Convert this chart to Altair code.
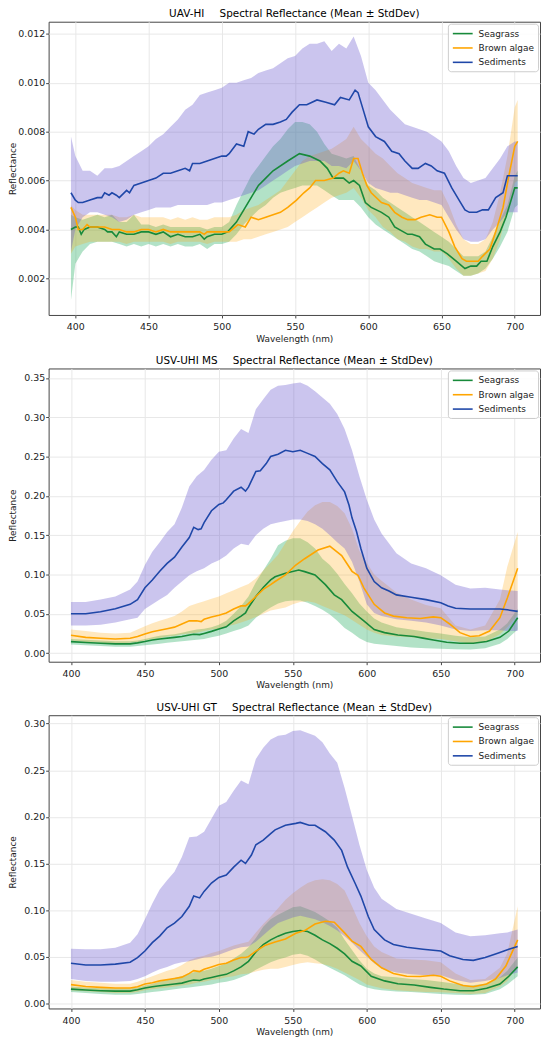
import altair as alt
import pandas as pd

CLASSES = ["Seagrass", "Brown algae", "Sediments"]
LINE_COLORS = ["#178a3a", "#ffa500", "#1f47a8"]
BAND_COLORS = ["#34b36c", "#ffa500", "#6a5acd"]
BAND_OPACITY = [0.38, 0.25, 0.35]

GAP = "\u00a0\u00a0\u00a0\u00a0\u2009"
TITLES = [
    "UAV-HI" + GAP + "Spectral Reflectance (Mean \u00b1 StdDev)",
    "USV-UHI MS" + GAP + "Spectral Reflectance (Mean \u00b1 StdDev)",
    "USV-UHI GT" + GAP + "Spectral Reflectance (Mean \u00b1 StdDev)",
]
X_TICKS = [400, 450, 500, 550, 600, 650, 700]
P1_Y_TICKS = [0.002, 0.004, 0.006, 0.008, 0.010, 0.012]
P2_Y_TICKS = [0.0, 0.05, 0.10, 0.15, 0.20, 0.25, 0.30, 0.35]
P3_Y_TICKS = [0.0, 0.05, 0.10, 0.15, 0.20, 0.25, 0.30]

# ---------------- Panel 1 (UAV-HI) ----------------
P1_BAND_WL = [397, 400, 405, 410, 415, 420, 425, 430, 435, 440,
              445, 450, 455, 460, 465, 470, 475, 480, 485, 490,
              495, 500, 505, 510, 515, 520, 525, 530, 535, 540,
              545, 550, 555, 560, 565, 570, 575, 580, 585, 590,
              595, 600, 605, 610, 615, 620, 625, 630, 635, 640,
              645, 650, 655, 660, 665, 670, 675, 680, 685, 690,
              695, 700, 702]
P1_SED_UP = [0.0078, 0.0070, 0.0064, 0.0064, 0.0062, 0.0065, 0.0065, 0.0066, 0.0068, 0.0070,
             0.0072, 0.0074, 0.0077, 0.0079, 0.0082, 0.0085, 0.0089, 0.0091, 0.0095, 0.0096,
             0.0097, 0.0098, 0.0100, 0.0100, 0.0101, 0.0102, 0.0104, 0.0105, 0.0106, 0.0108,
             0.0110, 0.0111, 0.0114, 0.0116, 0.0116, 0.0117, 0.0113, 0.0116, 0.0114, 0.0119,
             0.0111, 0.0100, 0.0097, 0.0093, 0.0089, 0.0086, 0.0083, 0.0082, 0.0081, 0.0080,
             0.0078, 0.0076, 0.0072, 0.0066, 0.0061, 0.0059, 0.0060, 0.0061, 0.0065, 0.0069,
             0.0074, 0.0076, 0.0076]
P1_SED_LO = [0.0031, 0.0040, 0.0045, 0.0047, 0.0047, 0.0046, 0.0045, 0.0043, 0.0044, 0.0046,
             0.0047, 0.0048, 0.0049, 0.0049, 0.0049, 0.0050, 0.0050, 0.0050, 0.0050, 0.0050,
             0.0051, 0.0051, 0.0052, 0.0053, 0.0054, 0.0055, 0.0056, 0.0058, 0.0060, 0.0062,
             0.0064, 0.0066, 0.0067, 0.0068, 0.0068, 0.0068, 0.0066, 0.0066, 0.0065, 0.0068,
             0.0064, 0.0059, 0.0057, 0.0056, 0.0055, 0.0055, 0.0054, 0.0053, 0.0052, 0.0052,
             0.0051, 0.0050, 0.0045, 0.0040, 0.0036, 0.0035, 0.0035, 0.0036, 0.0040, 0.0043,
             0.0047, 0.0047, 0.0047]
P1_SEA_UP = [0.0046, 0.0045, 0.0044, 0.0045, 0.0046, 0.0045, 0.0046, 0.0043, 0.0043, 0.0046,
             0.0042, 0.0042, 0.0041, 0.0042, 0.0041, 0.0041, 0.0041, 0.0041, 0.0041, 0.0040,
             0.0041, 0.0041, 0.0043, 0.0050, 0.0056, 0.0062, 0.0066, 0.0070, 0.0074, 0.0077,
             0.0081, 0.0084, 0.0084, 0.0083, 0.0080, 0.0075, 0.0071, 0.0070, 0.0069, 0.0070,
             0.0064, 0.0058, 0.0056, 0.0053, 0.0051, 0.0049, 0.0047, 0.0045, 0.0043, 0.0041,
             0.0039, 0.0037, 0.0035, 0.0032, 0.0029, 0.0029, 0.0029, 0.0031, 0.0037, 0.0044,
             0.0050, 0.0062, 0.0064]
P1_SEA_LO = [0.0011, 0.0026, 0.0031, 0.0034, 0.0035, 0.0035, 0.0035, 0.0034, 0.0033, 0.0034,
             0.0033, 0.0034, 0.0033, 0.0034, 0.0033, 0.0034, 0.0033, 0.0033, 0.0034, 0.0032,
             0.0034, 0.0034, 0.0035, 0.0038, 0.0042, 0.0045, 0.0048, 0.0050, 0.0053, 0.0055,
             0.0056, 0.0057, 0.0058, 0.0058, 0.0058, 0.0056, 0.0054, 0.0052, 0.0052, 0.0052,
             0.0049, 0.0045, 0.0042, 0.0040, 0.0038, 0.0036, 0.0034, 0.0032, 0.0031, 0.0029,
             0.0027, 0.0026, 0.0025, 0.0023, 0.0021, 0.0021, 0.0022, 0.0024, 0.0028, 0.0033,
             0.0039, 0.0049, 0.0050]
P1_BRN_UP = [0.0050, 0.0048, 0.0046, 0.0046, 0.0046, 0.0046, 0.0046, 0.0045, 0.0045, 0.0046,
             0.0045, 0.0045, 0.0045, 0.0045, 0.0044, 0.0045, 0.0044, 0.0045, 0.0044, 0.0044,
             0.0045, 0.0045, 0.0045, 0.0046, 0.0048, 0.0049, 0.0050, 0.0052, 0.0054, 0.0056,
             0.0060, 0.0064, 0.0068, 0.0070, 0.0071, 0.0072, 0.0073, 0.0075, 0.0077, 0.0082,
             0.0077, 0.0074, 0.0071, 0.0069, 0.0066, 0.0063, 0.0061, 0.0059, 0.0058, 0.0057,
             0.0056, 0.0056, 0.0050, 0.0042, 0.0036, 0.0034, 0.0034, 0.0036, 0.0043, 0.0055,
             0.0070, 0.0090, 0.0093]
P1_BRN_LO = [0.0030, 0.0033, 0.0034, 0.0035, 0.0035, 0.0035, 0.0035, 0.0035, 0.0034, 0.0035,
             0.0035, 0.0035, 0.0035, 0.0035, 0.0034, 0.0035, 0.0035, 0.0035, 0.0035, 0.0034,
             0.0035, 0.0035, 0.0035, 0.0035, 0.0036, 0.0036, 0.0037, 0.0038, 0.0039, 0.0040,
             0.0041, 0.0043, 0.0045, 0.0047, 0.0049, 0.0051, 0.0053, 0.0054, 0.0055, 0.0057,
             0.0053, 0.0048, 0.0045, 0.0041, 0.0039, 0.0036, 0.0035, 0.0033, 0.0032, 0.0032,
             0.0031, 0.0031, 0.0028, 0.0024, 0.0021, 0.0021, 0.0022, 0.0023, 0.0028, 0.0036,
             0.0048, 0.0059, 0.0060]

P1_SEA_WL = [397, 400, 402, 404, 406, 410, 415, 420, 422, 425,
             428, 430, 435, 440, 445, 450, 455, 460, 465, 470,
             475, 480, 485, 488, 490, 495, 500, 504, 510, 515,
             520, 525, 530, 535, 545, 553, 560, 567, 572, 576,
             583, 587, 590, 594, 598, 602, 609, 614, 618, 624,
             627, 630, 635, 639, 645, 649, 654, 660, 666, 670,
             674, 677, 681, 685, 690, 694, 700, 702]
P1_SEA_MEAN = [0.0040, 0.0041, 0.0041, 0.0038, 0.0040, 0.0041, 0.0041, 0.0040, 0.0039, 0.0039,
               0.0037, 0.0039, 0.0038, 0.0038, 0.0039, 0.0039, 0.0038, 0.0039, 0.0037, 0.0038,
               0.0037, 0.0037, 0.0038, 0.0036, 0.0037, 0.0038, 0.0038, 0.0039, 0.0043, 0.0048,
               0.0053, 0.0058, 0.0061, 0.0064, 0.0068, 0.0071, 0.0070, 0.0068, 0.0065, 0.0061,
               0.0061, 0.0059, 0.0060, 0.0058, 0.0051, 0.0049, 0.0047, 0.0045, 0.0041, 0.0039,
               0.0038, 0.0038, 0.0037, 0.0034, 0.0032, 0.0032, 0.0030, 0.0027, 0.0024, 0.0025,
               0.0025, 0.0027, 0.0027, 0.0033, 0.0039, 0.0045, 0.0057, 0.0057]
P1_BRN_WL = [397, 400, 402, 405, 408, 410, 415, 420, 425, 430,
             435, 440, 445, 450, 455, 460, 465, 470, 475, 480,
             485, 488, 490, 495, 500, 505, 511, 516, 520, 525,
             530, 535, 540, 545, 551, 556, 560, 564, 570, 576,
             580, 583, 587, 590, 593, 596, 599, 602, 609, 614,
             618, 623, 627, 632, 636, 642, 647, 650, 655, 659,
             664, 667, 672, 675, 678, 683, 687, 692, 696, 700,
             702]
P1_BRN_MEAN = [0.0049, 0.0045, 0.0040, 0.0040, 0.0042, 0.0041, 0.0041, 0.0041, 0.0040, 0.0040,
               0.0039, 0.0039, 0.0040, 0.0040, 0.0039, 0.0040, 0.0039, 0.0039, 0.0039, 0.0039,
               0.0039, 0.0038, 0.0039, 0.0039, 0.0039, 0.0039, 0.0042, 0.0041, 0.0045, 0.0044,
               0.0045, 0.0046, 0.0047, 0.0049, 0.0052, 0.0055, 0.0057, 0.0060, 0.0060, 0.0061,
               0.0063, 0.0064, 0.0063, 0.0069, 0.0069, 0.0063, 0.0058, 0.0055, 0.0051, 0.0050,
               0.0047, 0.0045, 0.0044, 0.0044, 0.0045, 0.0046, 0.0045, 0.0045, 0.0039, 0.0033,
               0.0028, 0.0027, 0.0027, 0.0027, 0.0029, 0.0032, 0.0039, 0.0049, 0.0062, 0.0074,
               0.0076]
P1_SED_WL = [397, 400, 402, 405, 410, 415, 418, 420, 423, 425,
             428, 430, 435, 437, 440, 445, 450, 455, 460, 465,
             470, 475, 478, 480, 485, 490, 495, 500, 503, 505,
             510, 515, 518, 522, 525, 530, 535, 540, 544, 548,
             553, 558, 565, 571, 577, 581, 587, 591, 593, 597,
             600, 605, 611, 616, 621, 625, 630, 634, 639, 643,
             647, 652, 657, 663, 666, 669, 674, 678, 682, 687,
             692, 695, 700, 702]
P1_SED_MEAN = [0.0055, 0.0052, 0.0051, 0.0051, 0.0052, 0.0053, 0.0053, 0.0055, 0.0054, 0.0055,
               0.0054, 0.0053, 0.0056, 0.0055, 0.0058, 0.0059, 0.0060, 0.0061, 0.0063, 0.0063,
               0.0064, 0.0065, 0.0064, 0.0067, 0.0067, 0.0068, 0.0069, 0.0070, 0.0070, 0.0071,
               0.0075, 0.0074, 0.0080, 0.0079, 0.0081, 0.0083, 0.0083, 0.0084, 0.0085, 0.0088,
               0.0091, 0.0091, 0.0093, 0.0092, 0.0091, 0.0094, 0.0093, 0.0097, 0.0096, 0.0088,
               0.0082, 0.0078, 0.0076, 0.0072, 0.0071, 0.0068, 0.0065, 0.0065, 0.0067, 0.0066,
               0.0064, 0.0063, 0.0057, 0.0051, 0.0048, 0.0047, 0.0047, 0.0048, 0.0048, 0.0053,
               0.0055, 0.0062, 0.0062, 0.0062]

# ---------------- Panels 2 and 3 band wavelengths ----------------
P23_BAND_WL = [400, 410, 420, 430, 440, 445, 450, 455, 460, 465,
               470, 475, 480, 485, 490, 495, 500, 505, 510, 515,
               520, 525, 530, 535, 540, 545, 550, 555, 560, 565,
               570, 575, 580, 585, 590, 595, 600, 605, 610, 620,
               630, 640, 650, 660, 670, 680, 690, 695, 702]

# ---------------- Panel 2 (USV-UHI MS) ----------------
P2_SED_UP = [0.065, 0.065, 0.068, 0.072, 0.081, 0.091, 0.112, 0.129, 0.141, 0.154,
             0.164, 0.185, 0.212, 0.225, 0.233, 0.246, 0.256, 0.258, 0.273, 0.285,
             0.280, 0.310, 0.323, 0.335, 0.340, 0.341, 0.343, 0.344, 0.340, 0.333,
             0.325, 0.317, 0.304, 0.285, 0.258, 0.225, 0.195, 0.170, 0.152, 0.127,
             0.114, 0.108, 0.099, 0.087, 0.082, 0.083, 0.081, 0.080, 0.079]
P2_SED_LO = [0.035, 0.035, 0.036, 0.039, 0.043, 0.045, 0.056, 0.062, 0.068, 0.074,
             0.083, 0.091, 0.099, 0.104, 0.108, 0.114, 0.118, 0.124, 0.133, 0.139,
             0.137, 0.150, 0.158, 0.164, 0.166, 0.168, 0.170, 0.170, 0.168, 0.164,
             0.158, 0.150, 0.141, 0.133, 0.116, 0.091, 0.062, 0.051, 0.047, 0.043,
             0.041, 0.039, 0.035, 0.030, 0.028, 0.029, 0.029, 0.028, 0.028]
P2_BRN_UP = [0.030, 0.028, 0.026, 0.025, 0.026, 0.030, 0.034, 0.038, 0.041, 0.044,
             0.047, 0.053, 0.060, 0.063, 0.066, 0.069, 0.072, 0.076, 0.080, 0.084,
             0.088, 0.095, 0.105, 0.115, 0.125, 0.140, 0.155, 0.168, 0.180, 0.188,
             0.192, 0.192, 0.187, 0.178, 0.158, 0.130, 0.115, 0.100, 0.092, 0.077,
             0.068, 0.061, 0.057, 0.035, 0.030, 0.035, 0.068, 0.110, 0.154]
P2_BRN_LO = [0.016, 0.014, 0.013, 0.012, 0.013, 0.014, 0.016, 0.018, 0.019, 0.021,
             0.022, 0.024, 0.025, 0.026, 0.028, 0.030, 0.031, 0.034, 0.036, 0.039,
             0.042, 0.046, 0.050, 0.054, 0.056, 0.058, 0.062, 0.065, 0.066, 0.064,
             0.060, 0.056, 0.052, 0.048, 0.042, 0.036, 0.030, 0.026, 0.023, 0.021,
             0.020, 0.019, 0.018, 0.015, 0.012, 0.014, 0.024, 0.033, 0.049]
P2_SEA_UP = [0.018, 0.017, 0.016, 0.015, 0.015, 0.016, 0.018, 0.020, 0.022, 0.023,
             0.024, 0.026, 0.028, 0.030, 0.031, 0.033, 0.036, 0.041, 0.050, 0.060,
             0.072, 0.090, 0.105, 0.120, 0.137, 0.143, 0.146, 0.146, 0.141, 0.133,
             0.120, 0.112, 0.101, 0.088, 0.076, 0.063, 0.053, 0.044, 0.039, 0.033,
             0.030, 0.027, 0.025, 0.022, 0.020, 0.021, 0.030, 0.038, 0.056]
P2_SEA_LO = [0.011, 0.010, 0.009, 0.008, 0.008, 0.009, 0.010, 0.011, 0.012, 0.013,
             0.014, 0.015, 0.016, 0.017, 0.018, 0.020, 0.022, 0.025, 0.028, 0.031,
             0.035, 0.045, 0.052, 0.058, 0.063, 0.066, 0.067, 0.067, 0.064, 0.060,
             0.055, 0.049, 0.041, 0.032, 0.026, 0.019, 0.014, 0.012, 0.011, 0.009,
             0.007, 0.006, 0.0055, 0.005, 0.0046, 0.006, 0.012, 0.018, 0.030]

P2_SEA_WL = [400, 410, 420, 430, 440, 445, 450, 455, 460, 470,
             475, 480, 483, 487, 490, 495, 500, 505, 510, 515,
             518, 520, 525, 530, 535, 538, 545, 554, 558, 565,
             572, 578, 583, 590, 594, 598, 605, 612, 621, 632,
             638, 645, 654, 663, 672, 681, 690, 696, 702]
P2_SEA_MEAN = [0.0146, 0.0134, 0.0125, 0.0117, 0.0117, 0.013, 0.0146, 0.0167, 0.018, 0.020,
               0.021, 0.023, 0.024, 0.0235, 0.025, 0.0276, 0.0305, 0.0334, 0.041, 0.047,
               0.051, 0.058, 0.072, 0.0835, 0.093, 0.097, 0.1015, 0.1057, 0.1036, 0.0994,
               0.087, 0.074, 0.068, 0.053, 0.047, 0.041, 0.030, 0.026, 0.023, 0.021,
               0.019, 0.0167, 0.0138, 0.0125, 0.0125, 0.0146, 0.020, 0.028, 0.045]
P2_BRN_WL = [400, 410, 420, 430, 440, 445, 450, 455, 460, 465,
             470, 475, 480, 485, 488, 490, 495, 500, 505, 510,
             515, 518, 520, 525, 530, 535, 538, 545, 552, 558,
             567, 575, 583, 590, 594, 598, 605, 612, 618, 627,
             636, 645, 650, 656, 663, 670, 676, 683, 690, 695,
             702]
P2_BRN_MEAN = [0.0226, 0.020, 0.0188, 0.018, 0.0188, 0.021, 0.0242, 0.027, 0.029, 0.031,
               0.033, 0.037, 0.041, 0.041, 0.040, 0.043, 0.046, 0.048, 0.051, 0.056,
               0.060, 0.060, 0.063, 0.072, 0.081, 0.087, 0.091, 0.0994, 0.112, 0.120,
               0.131, 0.136, 0.124, 0.104, 0.099, 0.083, 0.062, 0.051, 0.047, 0.045,
               0.044, 0.046, 0.045, 0.037, 0.026, 0.021, 0.022, 0.028, 0.045, 0.070,
               0.108]
P2_SED_WL = [400, 410, 420, 430, 440, 445, 450, 455, 460, 465,
             470, 475, 480, 483, 486, 488, 490, 495, 500, 503,
             505, 510, 515, 518, 520, 525, 528, 532, 535, 540,
             545, 550, 555, 560, 565, 570, 575, 580, 585, 588,
             590, 593, 596, 600, 605, 610, 615, 620, 630, 640,
             650, 655, 660, 670, 680, 690, 695, 702]
P2_SED_MEAN = [0.050, 0.050, 0.0526, 0.0564, 0.062, 0.068, 0.083, 0.093, 0.104, 0.114,
               0.122, 0.135, 0.147, 0.160, 0.157, 0.158, 0.166, 0.181, 0.189, 0.191,
               0.195, 0.206, 0.211, 0.206, 0.211, 0.231, 0.232, 0.241, 0.250, 0.253,
               0.258, 0.256, 0.258, 0.254, 0.250, 0.241, 0.233, 0.218, 0.205, 0.188,
               0.172, 0.155, 0.133, 0.108, 0.091, 0.083, 0.079, 0.074, 0.071, 0.068,
               0.064, 0.060, 0.057, 0.056, 0.056, 0.056, 0.055, 0.053]

# ---------------- Panel 3 (USV-UHI GT) ----------------
P3_SED_UP = [0.0585, 0.058, 0.058, 0.0596, 0.065, 0.074, 0.090, 0.107, 0.122, 0.132,
             0.141, 0.157, 0.178, 0.179, 0.184, 0.198, 0.212, 0.216, 0.228, 0.239,
             0.235, 0.262, 0.274, 0.283, 0.287, 0.288, 0.292, 0.293, 0.290, 0.287,
             0.280, 0.268, 0.258, 0.231, 0.201, 0.170, 0.143, 0.124, 0.112, 0.101,
             0.096, 0.091, 0.086, 0.076, 0.072, 0.073, 0.075, 0.076, 0.079]
P3_SED_LO = [0.026, 0.024, 0.023, 0.023, 0.024, 0.026, 0.029, 0.033, 0.0365, 0.039,
             0.042, 0.044, 0.045, 0.047, 0.049, 0.050, 0.052, 0.055, 0.058, 0.060,
             0.061, 0.066, 0.073, 0.080, 0.086, 0.089, 0.092, 0.094, 0.092, 0.090,
             0.087, 0.083, 0.078, 0.072, 0.065, 0.057, 0.050, 0.043, 0.037, 0.033,
             0.031, 0.030, 0.030, 0.025, 0.022, 0.024, 0.027, 0.030, 0.033]
P3_BRN_UP = [0.025, 0.023, 0.022, 0.021, 0.021, 0.023, 0.026, 0.029, 0.032, 0.035,
             0.037, 0.041, 0.046, 0.049, 0.051, 0.054, 0.056, 0.059, 0.062, 0.064,
             0.066, 0.076, 0.085, 0.093, 0.102, 0.111, 0.118, 0.124, 0.129, 0.132,
             0.133, 0.132, 0.128, 0.121, 0.104, 0.086, 0.072, 0.061, 0.055, 0.048,
             0.047, 0.046, 0.044, 0.032, 0.025, 0.026, 0.038, 0.054, 0.104]
P3_BRN_LO = [0.014, 0.013, 0.012, 0.011, 0.011, 0.012, 0.014, 0.015, 0.016, 0.017,
             0.018, 0.019, 0.020, 0.022, 0.023, 0.025, 0.026, 0.028, 0.029, 0.031,
             0.032, 0.034, 0.036, 0.037, 0.037, 0.039, 0.041, 0.043, 0.044, 0.043,
             0.042, 0.040, 0.037, 0.033, 0.029, 0.025, 0.020, 0.018, 0.016, 0.014,
             0.013, 0.012, 0.0117, 0.011, 0.010, 0.011, 0.018, 0.024, 0.040]
P3_SEA_UP = [0.018, 0.017, 0.016, 0.016, 0.016, 0.017, 0.019, 0.021, 0.023, 0.025,
             0.027, 0.029, 0.032, 0.034, 0.035, 0.037, 0.040, 0.043, 0.048, 0.053,
             0.060, 0.070, 0.082, 0.090, 0.095, 0.099, 0.103, 0.104, 0.101, 0.098,
             0.093, 0.088, 0.081, 0.068, 0.057, 0.046, 0.037, 0.032, 0.029, 0.028,
             0.026, 0.025, 0.023, 0.021, 0.019, 0.021, 0.028, 0.035, 0.049]
P3_SEA_LO = [0.012, 0.011, 0.010, 0.009, 0.009, 0.010, 0.011, 0.012, 0.013, 0.014,
             0.015, 0.016, 0.017, 0.018, 0.019, 0.020, 0.022, 0.023, 0.025, 0.028,
             0.031, 0.036, 0.040, 0.044, 0.047, 0.049, 0.052, 0.053, 0.051, 0.047,
             0.042, 0.038, 0.034, 0.030, 0.025, 0.020, 0.017, 0.015, 0.014, 0.0125,
             0.012, 0.011, 0.010, 0.009, 0.0089, 0.010, 0.015, 0.020, 0.029]

P3_SEA_WL = [400, 410, 420, 430, 440, 445, 450, 455, 460, 470,
             475, 480, 483, 487, 490, 495, 500, 505, 510, 515,
             520, 525, 530, 535, 540, 545, 550, 555, 560, 565,
             570, 575, 580, 585, 590, 596, 603, 612, 621, 632,
             643, 652, 663, 672, 681, 690, 696, 702]
P3_SEA_MEAN = [0.0152, 0.0142, 0.0135, 0.013, 0.013, 0.0145, 0.0163, 0.0177, 0.0188, 0.0206,
               0.0216, 0.0238, 0.025, 0.0245, 0.026, 0.0277, 0.0294, 0.031, 0.0347, 0.039,
               0.045, 0.055, 0.063, 0.068, 0.072, 0.075, 0.077, 0.078, 0.077, 0.073,
               0.068, 0.064, 0.059, 0.053, 0.045, 0.040, 0.029, 0.024, 0.021, 0.0195,
               0.017, 0.0152, 0.0135, 0.0135, 0.016, 0.0206, 0.029, 0.039]
P3_BRN_WL = [400, 410, 420, 430, 440, 445, 450, 455, 460, 470,
             475, 480, 483, 487, 490, 495, 500, 505, 510, 515,
             518, 520, 525, 531, 538, 545, 552, 558, 565, 572,
             578, 585, 590, 596, 603, 610, 618, 627, 636, 645,
             650, 656, 665, 672, 681, 687, 694, 702]
P3_BRN_MEAN = [0.020, 0.018, 0.017, 0.0163, 0.0163, 0.0177, 0.0206, 0.022, 0.024, 0.0266,
               0.028, 0.032, 0.035, 0.034, 0.0365, 0.039, 0.0415, 0.043, 0.0465, 0.049,
               0.049, 0.050, 0.056, 0.062, 0.0656, 0.069, 0.075, 0.078, 0.085, 0.088,
               0.087, 0.0755, 0.0667, 0.061, 0.047, 0.038, 0.032, 0.029, 0.0287, 0.030,
               0.029, 0.024, 0.019, 0.0177, 0.0206, 0.026, 0.040, 0.068]
P3_SED_WL = [400, 410, 420, 430, 440, 445, 450, 455, 460, 465,
             470, 475, 480, 483, 487, 490, 495, 500, 505, 510,
             515, 518, 522, 525, 530, 535, 538, 545, 552, 555,
             561, 565, 572, 578, 583, 587, 592, 596, 601, 605,
             612, 618, 627, 638, 650, 656, 665, 672, 680, 689,
             696, 702]
P3_SED_MEAN = [0.043, 0.041, 0.041, 0.042, 0.044, 0.049, 0.056, 0.065, 0.072, 0.081,
               0.086, 0.093, 0.104, 0.115, 0.113, 0.120, 0.129, 0.135, 0.1376, 0.146,
               0.1535, 0.150, 0.159, 0.170, 0.175, 0.182, 0.186, 0.191, 0.193, 0.194,
               0.191, 0.191, 0.184, 0.175, 0.164, 0.146, 0.129, 0.115, 0.093, 0.079,
               0.068, 0.063, 0.060, 0.058, 0.056, 0.051, 0.047, 0.046, 0.049, 0.054,
               0.058, 0.061]

FONT = "DejaVu Sans"
PLOT_W = 496
PLOT_H = 296


def make_panel(title, band_wl, bands, means, xdom, ydom, yticks, yfmt):
    xs = alt.Scale(domain=xdom, nice=False, zero=False)
    ys = alt.Scale(domain=ydom, nice=False, zero=False)
    xax = alt.Axis(values=X_TICKS, format="d", title="Wavelength (nm)",
                   labelPadding=4, titlePadding=3)
    yax = alt.Axis(values=yticks, format=yfmt, title="Reflectance",
                   labelPadding=1, titleX=-31)
    layers = []
    for i, (up, lo) in enumerate(bands):
        df = pd.DataFrame({"wl": band_wl, "lo": lo, "up": up})
        layers.append(
            alt.Chart(df).mark_area(color=BAND_COLORS[i], opacity=BAND_OPACITY[i]).encode(
                x=alt.X("wl:Q", scale=xs, axis=xax),
                y=alt.Y("lo:Q", scale=ys, axis=yax),
                y2="up:Q",
            )
        )
    legend = alt.Legend(
        title=None, orient="top-right", offset=2, symbolType="M-1,0H3",
        symbolSize=100, symbolStrokeWidth=1.6,
        labelFontSize=9, labelFont=FONT, labelOffset=15, padding=4, rowPadding=3.5,
        strokeColor="#cccccc", fillColor="rgba(255,255,255,0.85)", cornerRadius=3,
        labelColor="#222222",
    )
    for i, (wl, val) in enumerate(means):
        df = pd.DataFrame({"wl": wl, "val": val, "cls": CLASSES[i]})
        layers.append(
            alt.Chart(df).mark_line(strokeWidth=1.6).encode(
                x=alt.X("wl:Q", scale=xs, axis=xax),
                y=alt.Y("val:Q", scale=ys, axis=yax),
                color=alt.Color("cls:N", scale=alt.Scale(domain=CLASSES, range=LINE_COLORS),
                                legend=legend),
            )
        )
    return alt.layer(*layers).properties(
        width=PLOT_W, height=PLOT_H,
        title=alt.TitleParams(text=title, font=FONT, fontSize=10.5, fontWeight="normal",
                              color="black", offset=2, anchor="middle"),
    )


p1 = make_panel(
    TITLES[0], P1_BAND_WL,
    [(P1_SEA_UP, P1_SEA_LO), (P1_BRN_UP, P1_BRN_LO), (P1_SED_UP, P1_SED_LO)],
    [(P1_SEA_WL, P1_SEA_MEAN), (P1_BRN_WL, P1_BRN_MEAN), (P1_SED_WL, P1_SED_MEAN)],
    [381.75, 717.25], [0.0005, 0.0125], P1_Y_TICKS, ".3f",
)
p2 = make_panel(
    TITLES[1], P23_BAND_WL,
    [(P2_SEA_UP, P2_SEA_LO), (P2_BRN_UP, P2_BRN_LO), (P2_SED_UP, P2_SED_LO)],
    [(P2_SEA_WL, P2_SEA_MEAN), (P2_BRN_WL, P2_BRN_MEAN), (P2_SED_WL, P2_SED_MEAN)],
    [384.9, 717.1], [-0.011, 0.362], P2_Y_TICKS, ".2f",
)
p3 = make_panel(
    TITLES[2], P23_BAND_WL,
    [(P3_SEA_UP, P3_SEA_LO), (P3_BRN_UP, P3_BRN_LO), (P3_SED_UP, P3_SED_LO)],
    [(P3_SEA_WL, P3_SEA_MEAN), (P3_BRN_WL, P3_BRN_MEAN), (P3_SED_WL, P3_SED_MEAN)],
    [384.9, 717.1], [-0.0056, 0.309], P3_Y_TICKS, ".2f",
)

chart = (
    alt.vconcat(p1, p2, p3, spacing=12)
    .resolve_scale(color="independent")
    .properties(padding={"left": 0, "top": -4, "right": 1, "bottom": 0}, background="white")
    .configure_view(stroke="#444444", strokeWidth=1)
    .configure_axis(
        labelFont=FONT, titleFont=FONT, labelFontSize=9.5, titleFontSize=9,
        titleFontWeight="normal", labelColor="#222222", titleColor="#222222",
        tickColor="#444444", tickSize=3, gridColor="#e8e8e8", gridWidth=1, domain=False,
    )
)

chart.save("out.html", embed_options={"renderer": "svg", "actions": False})
